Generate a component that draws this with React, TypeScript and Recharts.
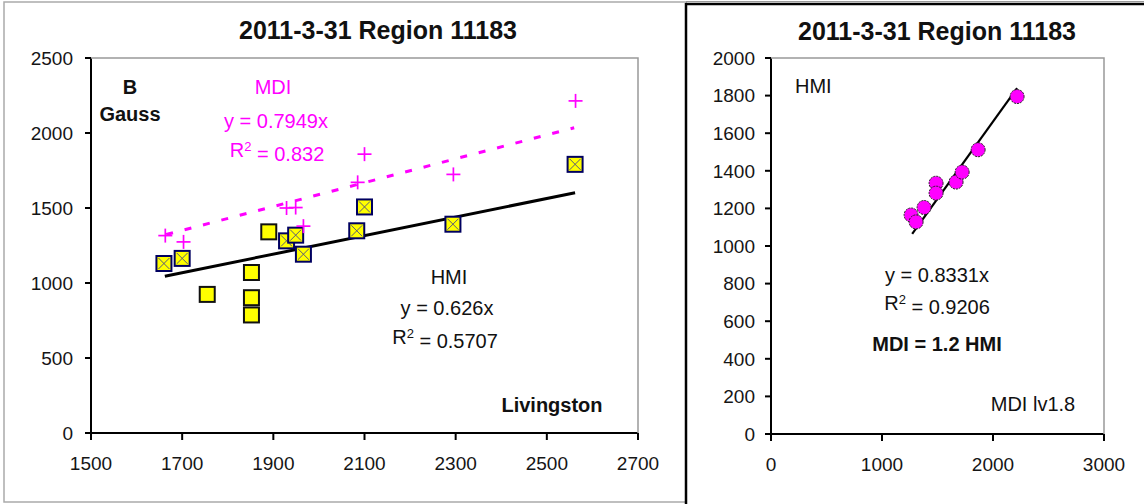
import React from 'react';
import { ScatterChart, Scatter, XAxis, YAxis, ReferenceLine } from 'recharts';

// left panel: Livingston (x) vs HMI / MDI field strength
const leftXTicks = [1500, 1700, 1900, 2100, 2300, 2500, 2700];
const leftYTicks = [0, 500, 1000, 1500, 2000, 2500];

// HMI points that have an MDI partner (drawn with the x inside)
const hmiMatched = [
  { x: 1660, y: 1130 },
  { x: 1700, y: 1164 },
  { x: 1929, y: 1281 },
  { x: 1949, y: 1319 },
  { x: 1966, y: 1192 },
  { x: 2083, y: 1348 },
  { x: 2100, y: 1507 },
  { x: 2294, y: 1392 },
  { x: 2562, y: 1791 },
];
const hmiOnly = [
  { x: 1755, y: 924 },
  { x: 1852, y: 1070 },
  { x: 1852, y: 902 },
  { x: 1852, y: 787 },
  { x: 1890, y: 1341 },
];
const mdiPoints = [
  { x: 1663, y: 1316 },
  { x: 1703, y: 1274 },
  { x: 1929, y: 1500 },
  { x: 1949, y: 1503 },
  { x: 1966, y: 1379 },
  { x: 2085, y: 1671 },
  { x: 2100, y: 1859 },
  { x: 2295, y: 1724 },
  { x: 2563, y: 2214 },
];
const hmiTrend = [
  { x: 1662, y: 1045 },
  { x: 2562, y: 1602 },
];
const mdiTrend = [
  { x: 1665, y: 1323 },
  { x: 2560, y: 2035 },
];

// right panel: MDI (x) vs HMI (y)
const rightXTicks = [0, 1000, 2000, 3000];
const rightYTicks = [0, 200, 400, 600, 800, 1000, 1200, 1400, 1600, 1800, 2000];
const hmiVsMdi = [
  { x: 1262, y: 1165 },
  { x: 1307, y: 1128 },
  { x: 1379, y: 1205 },
  { x: 1487, y: 1334 },
  { x: 1487, y: 1281 },
  { x: 1667, y: 1340 },
  { x: 1722, y: 1393 },
  { x: 1866, y: 1512 },
  { x: 2217, y: 1795 },
];
const hmiVsMdiTrend = [
  { x: 1272, y: 1065 },
  { x: 2217, y: 1840 },
];

const FONT = '"Liberation Sans", Arial, sans-serif';
const MAGENTA = '#ff00ff';
const tickStyle = { fontSize: 19, fill: '#151515', fontFamily: FONT };

const Plus = (p: any) => {
  const { cx, cy } = p;
  return (
    <g>
      <line x1={cx - 7} y1={cy} x2={cx + 7} y2={cy} stroke={MAGENTA} strokeWidth={1.7} />
      <line x1={cx} y1={cy - 7} x2={cx} y2={cy + 7} stroke={MAGENTA} strokeWidth={1.7} />
    </g>
  );
};

const CrossedSquare = (p: any) => {
  const { cx, cy } = p;
  const h = 7.5;
  return (
    <g>
      <rect x={cx - h} y={cy - h} width={h * 2} height={h * 2} fill="#ffff00" stroke="#000060" strokeWidth={2} />
      <line x1={cx - h + 2} y1={cy - h + 2} x2={cx + h - 2} y2={cy + h - 2} stroke="#5a5a7a" strokeWidth={1} />
      <line x1={cx + h - 2} y1={cy - h + 2} x2={cx - h + 2} y2={cy + h - 2} stroke="#5a5a7a" strokeWidth={1} />
    </g>
  );
};

const Square = (p: any) => {
  const { cx, cy } = p;
  return <rect x={cx - 7.5} y={cy - 7.5} width={15} height={15} fill="#ffff00" stroke="#111" strokeWidth={2} />;
};

const Dot = (p: any) => {
  const { cx, cy } = p;
  return <circle cx={cx} cy={cy} r={7} fill={MAGENTA} stroke="#222" strokeWidth={1} strokeDasharray="2 1" />;
};

const R2 = ({ x, y, value, fill, size = 20 }: any) => (
  <text x={x} y={y} dy="0.35em" textAnchor="middle" fontSize={size} fill={fill} fontFamily={FONT}>
    R<tspan dy="-0.5em" fontSize={13}>2</tspan>
    <tspan dy="0.5em">{` = ${value}`}</tspan>
  </text>
);

const Label = ({ x, y, children, fill = '#111', bold = false, size = 20, anchor = 'middle' }: any) => (
  <text x={x} y={y} dy="0.35em" textAnchor={anchor} fontSize={size} fill={fill}
    fontWeight={bold ? 'bold' : 'normal'} fontFamily={FONT}>
    {children}
  </text>
);

export default function App() {
  return (
    <div style={{ position: 'absolute', left: 0, top: 0, width: 1144, height: 504, background: '#fff' }}>
      <div style={{ position: 'absolute', left: 0, top: 0 }}>
        <ScatterChart width={690} height={504} margin={{ top: 58, right: 52, left: 31, bottom: 41 }}>
          <XAxis type="number" dataKey="x" domain={[1500, 2700]} ticks={leftXTicks} interval={0}
            stroke="#000" strokeWidth={2} tickSize={7} tickMargin={17} tick={tickStyle} height={30} />
          <YAxis type="number" dataKey="y" domain={[0, 2500]} ticks={leftYTicks} interval={0}
            stroke="#000" strokeWidth={2} tickSize={6} tickMargin={12} tick={tickStyle} width={60} />
          <ReferenceLine segment={hmiTrend} stroke="#000" strokeWidth={3} />
          <ReferenceLine segment={mdiTrend} stroke={MAGENTA} strokeWidth={3} strokeDasharray="7 12" />
          <Scatter data={hmiOnly} shape={Square} isAnimationActive={false} />
          <Scatter data={hmiMatched} shape={CrossedSquare} isAnimationActive={false} />
          <Scatter data={mdiPoints} shape={Plus} isAnimationActive={false} />
        </ScatterChart>
      </div>
      <div style={{ position: 'absolute', left: 690, top: 0 }}>
        <ScatterChart width={454} height={504} margin={{ top: 58, right: 40, left: 21, bottom: 40 }}>
          <XAxis type="number" dataKey="x" domain={[0, 3000]} ticks={rightXTicks} interval={0}
            stroke="#000" strokeWidth={2} tickSize={7} tickMargin={17} tick={tickStyle} height={30} />
          <YAxis type="number" dataKey="y" domain={[0, 2000]} ticks={rightYTicks} interval={0}
            stroke="#000" strokeWidth={2} tickSize={6} tickMargin={10} tick={tickStyle} width={60} />
          <ReferenceLine segment={hmiVsMdiTrend} stroke="#000" strokeWidth={2.2} />
          <Scatter data={hmiVsMdi} shape={Dot} isAnimationActive={false} />
        </ScatterChart>
      </div>
      <svg width={1144} height={504} style={{ position: 'absolute', left: 0, top: 0, pointerEvents: 'none' }}>
        {/* frames */}
        <rect x={4} y={2} width={682} height={500} fill="none" stroke="#aaa" strokeWidth={1.5} />
        <line x1={686} y1={3} x2={686} y2={504} stroke="#000" strokeWidth={2.5} />
        <line x1={686} y1={4} x2={1144} y2={4} stroke="#000" strokeWidth={2.5} />
        <line x1={686} y1={1.5} x2={1144} y2={1.5} stroke="#999" strokeWidth={1} />
        {/* plot area top/right borders */}
        <polyline points="91,58 638,58 638,433" fill="none" stroke="#999" strokeWidth={1.5} />
        <polyline points="771,58 1104,58 1104,434" fill="none" stroke="#999" strokeWidth={1.5} />

        <Label x={378} y={30} bold size={25}>2011-3-31 Region 11183</Label>
        <Label x={130} y={87} bold>B</Label>
        <Label x={130} y={114} bold>Gauss</Label>
        <Label x={273} y={87} fill={MAGENTA}>MDI</Label>
        <Label x={276} y={121} fill={MAGENTA}>y = 0.7949x</Label>
        <R2 x={277} y={150} value="0.832" fill={MAGENTA} />
        <Label x={449} y={277}>HMI</Label>
        <Label x={447} y={308}>y = 0.626x</Label>
        <R2 x={445} y={337} value="0.5707" fill="#111" />
        <Label x={552} y={405} bold>Livingston</Label>

        <Label x={937} y={31} bold size={25}>2011-3-31 Region 11183</Label>
        <Label x={795} y={86} anchor="start">HMI</Label>
        <Label x={937} y={275}>y = 0.8331x</Label>
        <R2 x={937} y={303} value="0.9206" fill="#111" />
        <Label x={937} y={344} bold>MDI = 1.2 HMI</Label>
        <Label x={1033} y={404}>MDI lv1.8</Label>
      </svg>
    </div>
  );
}
